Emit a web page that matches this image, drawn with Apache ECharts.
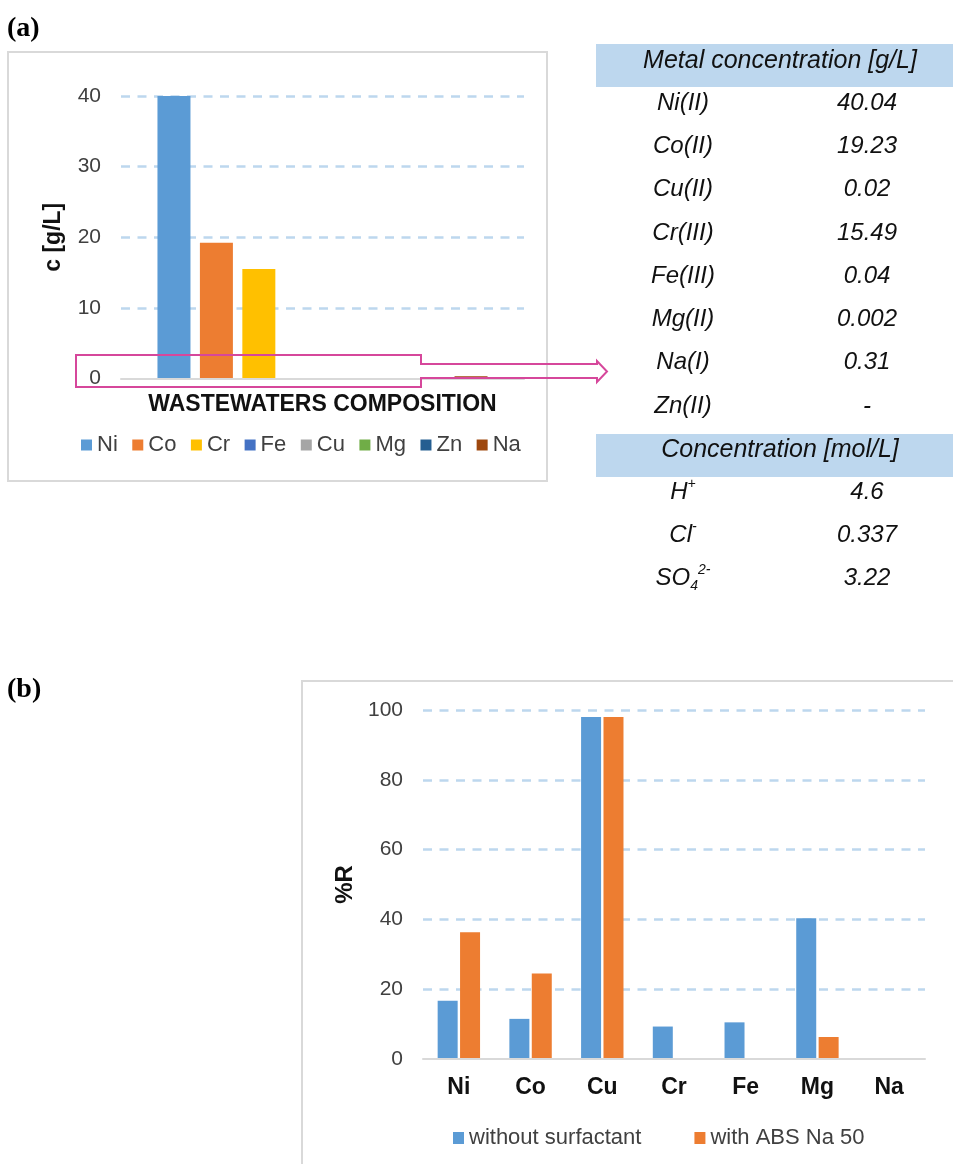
<!DOCTYPE html>
<html>
<head>
<meta charset="utf-8">
<script src="https://cdn.jsdelivr.net/npm/echarts@6/dist/echarts.min.js"></script>
<style>
html, body { margin: 0; padding: 0; background: #fff; }
#main { width: 953px; height: 1164px; }
</style>
</head>
<body>
<div id="main"></div>
<script>
// ---- (a) wastewater composition, g/L ----
const metals = ['Ni', 'Co', 'Cr', 'Fe', 'Cu', 'Mg', 'Zn', 'Na'];
const metalColors = ['#5b9bd5', '#ed7d31', '#ffc000', '#4472c4', '#a5a5a5', '#70ad47', '#255e91', '#9e480e'];
const concentrationGL = [40.04, 19.23, 15.49, 0.04, 0.02, 0.002, null, 0.31];
const oxidationStates = ['II', 'II', 'III', 'III', 'II', 'II', 'II', 'I'];
const tableOrder = ['Ni', 'Co', 'Cu', 'Cr', 'Fe', 'Mg', 'Na', 'Zn'];
const concTicks = [0, 10, 20, 30, 40];

// ---- ions, mol/L ----
const ionLabels = ['{i|H}{sup|+}', '{i|Cl}{sup|-}', '{i|SO}{sub|4}{sup|2-}'];
const ionValues = [4.6, 0.337, 3.22];

// ---- (b) removal %R ----
const removalMetals = ['Ni', 'Co', 'Cu', 'Cr', 'Fe', 'Mg', 'Na'];
const withoutSurfactant = [16.7, 11.5, 98.0, 9.3, 10.5, 40.3, 0];
const withAbsNa50 = [36.3, 24.5, 98.0, 0, 0, 6.3, 0];
const removalTicks = [0, 20, 40, 60, 80, 100];

const FONT = '"Liberation Sans", Arial, sans-serif';
const SERIF = '"Liberation Serif", "Times New Roman", serif';
const gridDash = { color: '#bdd7ee', width: 2.5, type: [9, 7.5] };
const axisGray = { color: '#d9d9d9', width: 2 };

// table cells
const tableX = { label: 683, value: 867, header: 780 };
const rowStep = 43.3;
const tableItalic = 'italic 24px ' + FONT;
const headerItalic = 'italic 25px ' + FONT;

const tableGraphics = [];
tableGraphics.push({
  type: 'rect', shape: { x: 596, y: 44, width: 357, height: 43 },
  style: { fill: '#bdd7ee' }, silent: true
});
tableGraphics.push({
  type: 'text', x: tableX.header, y: 61,
  style: { text: 'Metal concentration [g/L]', font: headerItalic, fill: '#111', align: 'center', verticalAlign: 'middle' }
});
tableOrder.forEach(function (m, i) {
  const k = metals.indexOf(m);
  const v = concentrationGL[k];
  const y = 103 + i * rowStep;
  tableGraphics.push({
    type: 'text', x: tableX.label, y: y,
    style: { text: m + '(' + oxidationStates[k] + ')', font: tableItalic, fill: '#111', align: 'center', verticalAlign: 'middle' }
  });
  tableGraphics.push({
    type: 'text', x: tableX.value, y: y,
    style: { text: v == null ? '-' : String(v), font: tableItalic, fill: '#111', align: 'center', verticalAlign: 'middle' }
  });
});
tableGraphics.push({
  type: 'rect', shape: { x: 596, y: 434, width: 357, height: 43 },
  style: { fill: '#bdd7ee' }, silent: true
});
tableGraphics.push({
  type: 'text', x: tableX.header, y: 450,
  style: { text: 'Concentration [mol/L]', font: headerItalic, fill: '#111', align: 'center', verticalAlign: 'middle' }
});
ionLabels.forEach(function (lab, i) {
  const y = 492 + i * rowStep;
  tableGraphics.push({
    type: 'text', x: tableX.label, y: y,
    style: {
      text: lab, align: 'center', verticalAlign: 'middle', fill: '#111',
      rich: {
        i: { fontStyle: 'italic', fontSize: 24, fontFamily: FONT, fill: '#111', lineHeight: 30 },
        sup: { fontStyle: 'italic', fontSize: 14, fontFamily: FONT, fill: '#111', verticalAlign: 'top', lineHeight: 16 },
        sub: { fontStyle: 'italic', fontSize: 14, fontFamily: FONT, fill: '#111', verticalAlign: 'bottom', lineHeight: 16 }
      }
    }
  });
  tableGraphics.push({
    type: 'text', x: tableX.value, y: y,
    style: { text: String(ionValues[i]), font: tableItalic, fill: '#111', align: 'center', verticalAlign: 'middle' }
  });
});

// highlight frame around the baseline with an outline arrow to the table
const frameArrow = [
  [76, 355], [421, 355], [421, 364], [597, 364], [597, 361], [607, 371.5],
  [597, 382], [597, 378], [421, 378], [421, 387], [76, 387]
];

const chart = echarts.init(document.getElementById('main'), null, { renderer: 'canvas' });

const seriesA = metals.map(function (m, i) {
  return {
    name: m, type: 'bar', xAxisIndex: 0, yAxisIndex: 0,
    data: [concentrationGL[i]],
    barWidth: 33, barGap: '28.6%',
    itemStyle: { color: metalColors[i] },
    emphasis: { disabled: true }
  };
});

const seriesB = [
  { name: 'without surfactant', data: withoutSurfactant, color: '#5b9bd5' },
  { name: 'with ABS Na 50', data: withAbsNa50, color: '#ed7d31' }
].map(function (s) {
  return {
    name: s.name, type: 'bar', xAxisIndex: 1, yAxisIndex: 1,
    data: s.data, barWidth: 20, barGap: '12%',
    itemStyle: { color: s.color },
    emphasis: { disabled: true }
  };
});

chart.setOption({
  animation: false,
  textStyle: { fontFamily: FONT },
  color: metalColors,
  grid: [
    { left: 121, right: 953 - 524, top: 96, height: 282.5, outerBoundsMode: 'none', containLabel: false },
    { left: 423, right: 953 - 925, top: 710, height: 349, outerBoundsMode: 'none', containLabel: false }
  ],
  xAxis: [
    {
      gridIndex: 0, type: 'category', data: ['composition'], z: 5,
      axisLine: { lineStyle: axisGray }, axisTick: { show: false }, axisLabel: { show: false },
      name: 'WASTEWATERS COMPOSITION', nameLocation: 'middle', nameGap: 15,
      nameTextStyle: { fontSize: 23, fontWeight: 'bold', color: '#111', fontFamily: FONT }
    },
    {
      gridIndex: 1, type: 'category', data: removalMetals, z: 5,
      axisLine: { lineStyle: axisGray }, axisTick: { show: false },
      axisLabel: { fontSize: 23, fontWeight: 'bold', color: '#111', margin: 17, fontFamily: FONT }
    }
  ],
  yAxis: [
    {
      gridIndex: 0, type: 'value',
      min: concTicks[0], max: concTicks[concTicks.length - 1], interval: concTicks[1] - concTicks[0],
      axisLine: { show: false }, axisTick: { show: false },
      axisLabel: { fontSize: 21, color: '#404040', margin: 20, fontFamily: FONT },
      splitLine: { show: true, showMinLine: false, lineStyle: gridDash },
      name: 'c [g/L]', nameLocation: 'middle', nameRotate: 90, nameGap: 56,
      nameTextStyle: { fontSize: 23, fontWeight: 'bold', color: '#111', fontFamily: FONT }
    },
    {
      gridIndex: 1, type: 'value',
      min: removalTicks[0], max: removalTicks[removalTicks.length - 1], interval: removalTicks[1] - removalTicks[0],
      axisLine: { show: false }, axisTick: { show: false },
      axisLabel: { fontSize: 21, color: '#404040', margin: 20, fontFamily: FONT },
      splitLine: { show: true, showMinLine: false, lineStyle: gridDash },
      name: '%R', nameLocation: 'middle', nameRotate: 90, nameGap: 66,
      nameTextStyle: { fontSize: 24, fontWeight: 'bold', color: '#111', fontFamily: FONT }
    }
  ],
  legend: [
    {
      data: metals, left: 76, top: 429, orient: 'horizontal',
      itemWidth: 11, itemHeight: 11, itemGap: 14.5, icon: 'rect',
      textStyle: { fontSize: 22, color: '#404040', fontFamily: FONT },
      selectedMode: false
    },
    {
      data: ['without surfactant', 'with ABS Na 50'], left: 448, top: 1122, orient: 'horizontal',
      itemWidth: 11, itemHeight: 12, itemGap: 53, icon: 'rect',
      textStyle: { fontSize: 22, color: '#404040', fontFamily: FONT },
      selectedMode: false
    }
  ],
  series: seriesA.concat(seriesB),
  graphic: [
    { type: 'rect', shape: { x: 8, y: 52, width: 539, height: 429 }, style: { fill: 'none', stroke: '#d9d9d9', lineWidth: 2 }, silent: true, z: -1 },
    { type: 'rect', shape: { x: 302, y: 681, width: 700, height: 560 }, style: { fill: 'none', stroke: '#d9d9d9', lineWidth: 2 }, silent: true, z: -1 },
    { type: 'text', x: 7, y: 29, style: { text: '(a)', font: 'bold 28px ' + SERIF, fill: '#000', verticalAlign: 'middle' } },
    { type: 'text', x: 7, y: 690, style: { text: '(b)', font: 'bold 28px ' + SERIF, fill: '#000', verticalAlign: 'middle' } },
    { type: 'polygon', shape: { points: frameArrow }, style: { fill: 'none', stroke: '#d6479b', lineWidth: 2 }, silent: true, z: 100 }
  ].concat(tableGraphics)
});
</script>
</body>
</html>
